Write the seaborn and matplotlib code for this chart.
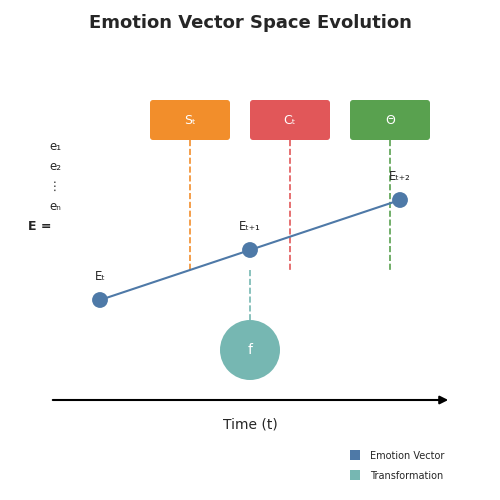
import matplotlib
matplotlib.use("Agg")
import matplotlib.pyplot as plt
import seaborn as sns
import pandas as pd
from matplotlib.patches import FancyBboxPatch, Circle, Rectangle

sns.set_theme(style="white")
plt.rcParams['font.family'] = ['DejaVu Sans']

# data
state_labels = ["Eₜ", "Eₜ₊₁", "Eₜ₊₂"]
state_x = [100, 250, 400]
state_y = [300, 250, 200]
factor_labels = ["Sₜ", "Cₜ", "Θ"]
factor_x = [190, 290, 390]
factor_colors = ["#F28E2B", "#E15759", "#59A14F"]
basis_labels = ["e₁", "e₂", "⋮", "eₙ"]
blue = "#4E79A7"
teal = "#76B7B2"

fig = plt.figure(figsize=(5, 5), dpi=100)
ax = fig.add_axes([0, 0, 1, 1])
ax.set_xlim(0, 500)
ax.set_ylim(500, 0)
ax.axis("off")

ax.text(250, 23, "Emotion Vector Space Evolution", ha="center", va="center",
        fontsize=13, fontweight="bold")

# factor boxes and dashed drops
for lab, x, c in zip(factor_labels, factor_x, factor_colors):
    ax.add_patch(FancyBboxPatch((x - 37, 103), 74, 34, boxstyle="round,pad=3",
                                fc=c, ec=c, lw=0))
    ax.text(x, 120, lab, ha="center", va="center", color="white", fontsize=9)
    ax.plot([x, x], [140, 270], ls="--", color=c, lw=1.2)

# trajectory
df = pd.DataFrame({"x": state_x, "y": state_y})
sns.lineplot(data=df, x="x", y="y", ax=ax, color=blue, lw=1.5, sort=False)
sns.scatterplot(data=df, x="x", y="y", ax=ax, color=blue, s=130, zorder=5,
                edgecolor="none")
for lab, x, y in zip(state_labels, state_x, state_y):
    ax.text(x, y - 24, lab, ha="center", va="center", fontsize=8.5)
ax.set_xlabel("")
ax.set_ylabel("")

# transformation
ax.plot([250, 250], [270, 320], ls="--", color=teal, lw=1.2)
ax.add_patch(Circle((250, 350), 30, fc=teal, ec="none"))
ax.text(250, 350, "f", ha="center", va="center", color="white", fontsize=10)

# basis vector
for i, lab in enumerate(basis_labels):
    ax.text(55, 146 + 20 * i, lab, ha="center", va="center", fontsize=8.5)
ax.text(40, 226, "E =", ha="center", va="center", fontsize=9, fontweight="bold")

# time axis
ax.annotate("", xy=(451, 400), xytext=(50, 400),
            arrowprops=dict(arrowstyle="-|>", color="black", lw=1.5))
ax.text(250, 425, "Time (t)", ha="center", va="center", fontsize=10)

# legend
for i, (lab, c) in enumerate([("Emotion Vector", blue), ("Transformation", teal)]):
    ax.add_patch(Rectangle((350, 450 + 20 * i), 10, 10, fc=c, ec="none"))
    ax.text(370, 456 + 20 * i, lab, va="center", fontsize=7)

fig.savefig("out.png", dpi=100)
